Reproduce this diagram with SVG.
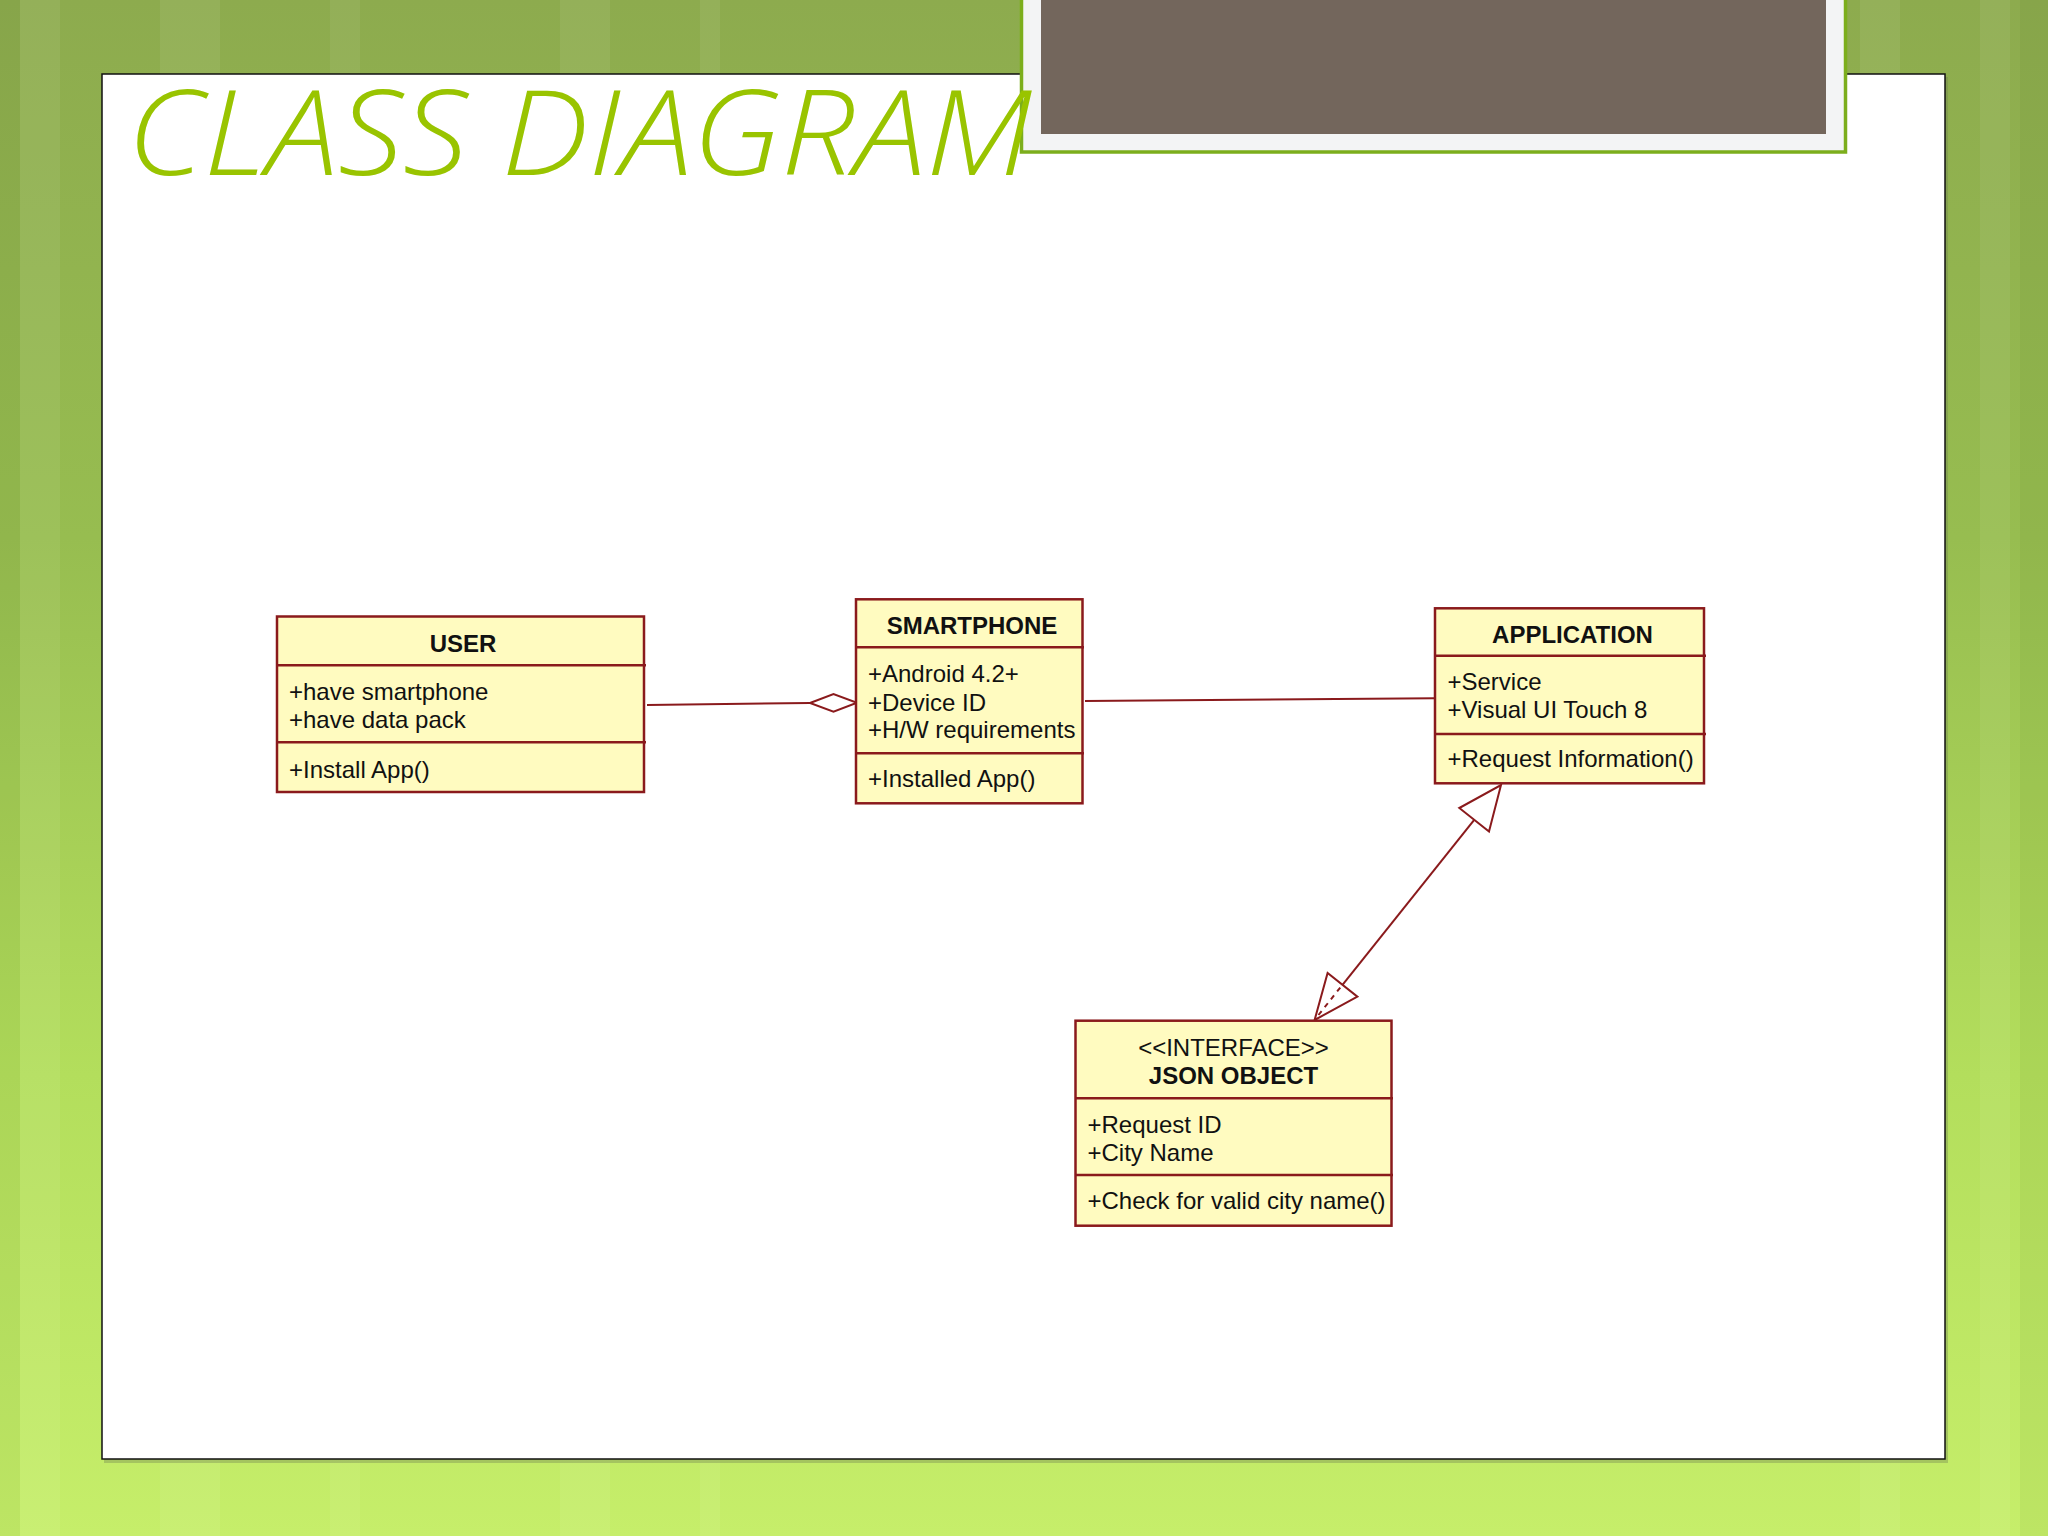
<svg xmlns="http://www.w3.org/2000/svg" width="2048" height="1536" viewBox="0 0 2048 1536">
  <defs>
    <linearGradient id="bg" x1="0" y1="0" x2="0" y2="1">
      <stop offset="0" stop-color="#8dab4e"/>
      <stop offset="0.35" stop-color="#97bd50"/>
      <stop offset="0.7" stop-color="#b3de5c"/>
      <stop offset="1" stop-color="#c6ee6a"/>
    </linearGradient>
    <style>
      .box { fill: #fffbc0; stroke: #8a1a1c; stroke-width: 2.5; }
      .div { stroke: #8a1a1c; stroke-width: 2.5; fill: none; }
      .conn { stroke: #8a1a1c; stroke-width: 2; fill: none; }
      .head { fill: #ffffff; stroke: #8a1a1c; stroke-width: 2; }
      .t { font-family: "Liberation Sans", Arial, sans-serif; font-size: 24px; fill: #111111; }
      .b { font-weight: bold; }
      .stripe { fill: #ffffff; }
    </style>
  </defs>

  <!-- background -->
  <rect x="0" y="0" width="2048" height="1536" fill="url(#bg)"/>
  <g opacity="0.06">
    <rect class="stripe" x="20" y="0" width="40" height="1536"/>
    <rect class="stripe" x="160" y="0" width="60" height="1536"/>
    <rect class="stripe" x="330" y="0" width="30" height="1536"/>
    <rect class="stripe" x="560" y="0" width="50" height="1536"/>
    <rect class="stripe" x="700" y="0" width="20" height="1536"/>
    <rect class="stripe" x="1860" y="0" width="40" height="1536"/>
    <rect class="stripe" x="1980" y="0" width="30" height="1536"/>
  </g>
  <g opacity="0.06">
    <rect x="0" y="0" width="20" height="1536" fill="#3a5a10"/>
    <rect x="2020" y="0" width="28" height="1536" fill="#3a5a10"/>
  </g>

  <!-- white panel -->
  <rect x="104" y="77" width="1844" height="1386" fill="#6a7a50" opacity="0.35"/>
  <rect x="102" y="74" width="1843" height="1385" fill="#ffffff" stroke="#111111" stroke-width="1.5"/>

  <!-- photo frame -->
  <rect x="1021.5" y="-5" width="824" height="157" fill="#f3f4f5" stroke="#7cae1c" stroke-width="3.5"/>
  <rect x="1041" y="0" width="785" height="134" fill="#73665c"/>

  <!-- title -->
  <text x="127" y="175" font-family="'Open Sans', 'Liberation Sans', sans-serif" font-style="italic" font-weight="300" font-size="118" fill="#99c400" textLength="905" lengthAdjust="spacingAndGlyphs">CLASS DIAGRAM</text>

  <!-- connectors -->
  <g id="connectors">
    <line class="conn" x1="647" y1="705" x2="810" y2="703"/>
    <polygon class="head" points="810,703 833.5,694 857,702.7 833.5,711.7"/>
    <line class="conn" x1="1085" y1="701" x2="1435" y2="698.3"/>
    <line class="conn" x1="1474.2" y1="819.8" x2="1342.5" y2="984.8"/>
    <polygon class="head" points="1501,785 1489,831.6 1459.3,808"/>
    <polygon class="head" points="1314.6,1020 1357.4,996.6 1327.6,973"/>
    <line class="conn" x1="1318.5" y1="1015" x2="1341.5" y2="986" stroke-dasharray="5,5"/>
  </g>

  <!-- USER -->
  <g id="user">
    <rect class="box" x="277" y="616.5" width="367" height="175.5"/>
    <line class="div" x1="277" y1="665.3" x2="646" y2="665.3"/>
    <line class="div" x1="277" y1="742.3" x2="646" y2="742.3"/>
    <text class="t b" x="463" y="651.5" text-anchor="middle">USER</text>
    <text class="t" x="289" y="700">+have smartphone</text>
    <text class="t" x="289" y="727.7">+have data pack</text>
    <text class="t" x="289" y="778.3">+Install App()</text>
  </g>

  <!-- SMARTPHONE -->
  <g id="smartphone">
    <rect class="box" x="856" y="599.3" width="226.5" height="204"/>
    <line class="div" x1="856" y1="647.3" x2="1084" y2="647.3"/>
    <line class="div" x1="856" y1="753.3" x2="1084" y2="753.3"/>
    <text class="t b" x="972" y="634.3" text-anchor="middle">SMARTPHONE</text>
    <text class="t" x="868" y="682.3">+Android 4.2+</text>
    <text class="t" x="868" y="710.7">+Device ID</text>
    <text class="t" x="868" y="738.3">+H/W requirements</text>
    <text class="t" x="868" y="786.7">+Installed App()</text>
  </g>

  <!-- APPLICATION -->
  <g id="application">
    <rect class="box" x="1435" y="608.3" width="269" height="175"/>
    <line class="div" x1="1435" y1="655.7" x2="1706" y2="655.7"/>
    <line class="div" x1="1435" y1="734" x2="1706" y2="734"/>
    <text class="t b" x="1572.5" y="643.3" text-anchor="middle">APPLICATION</text>
    <text class="t" x="1447.5" y="690">+Service</text>
    <text class="t" x="1447.5" y="718.3">+Visual UI Touch 8</text>
    <text class="t" x="1447.5" y="766.7">+Request Information()</text>
  </g>

  <!-- JSON OBJECT -->
  <g id="json-object">
    <rect class="box" x="1075.5" y="1020.7" width="316" height="205"/>
    <line class="div" x1="1075.5" y1="1098.3" x2="1393" y2="1098.3"/>
    <line class="div" x1="1075.5" y1="1175" x2="1393" y2="1175"/>
    <text class="t" x="1233.5" y="1056" text-anchor="middle">&lt;&lt;INTERFACE&gt;&gt;</text>
    <text class="t b" x="1233.5" y="1084.3" text-anchor="middle">JSON OBJECT</text>
    <text class="t" x="1087.5" y="1132.7">+Request ID</text>
    <text class="t" x="1087.5" y="1161">+City Name</text>
    <text class="t" x="1087.5" y="1209.3">+Check for valid city name()</text>
  </g>
</svg>
